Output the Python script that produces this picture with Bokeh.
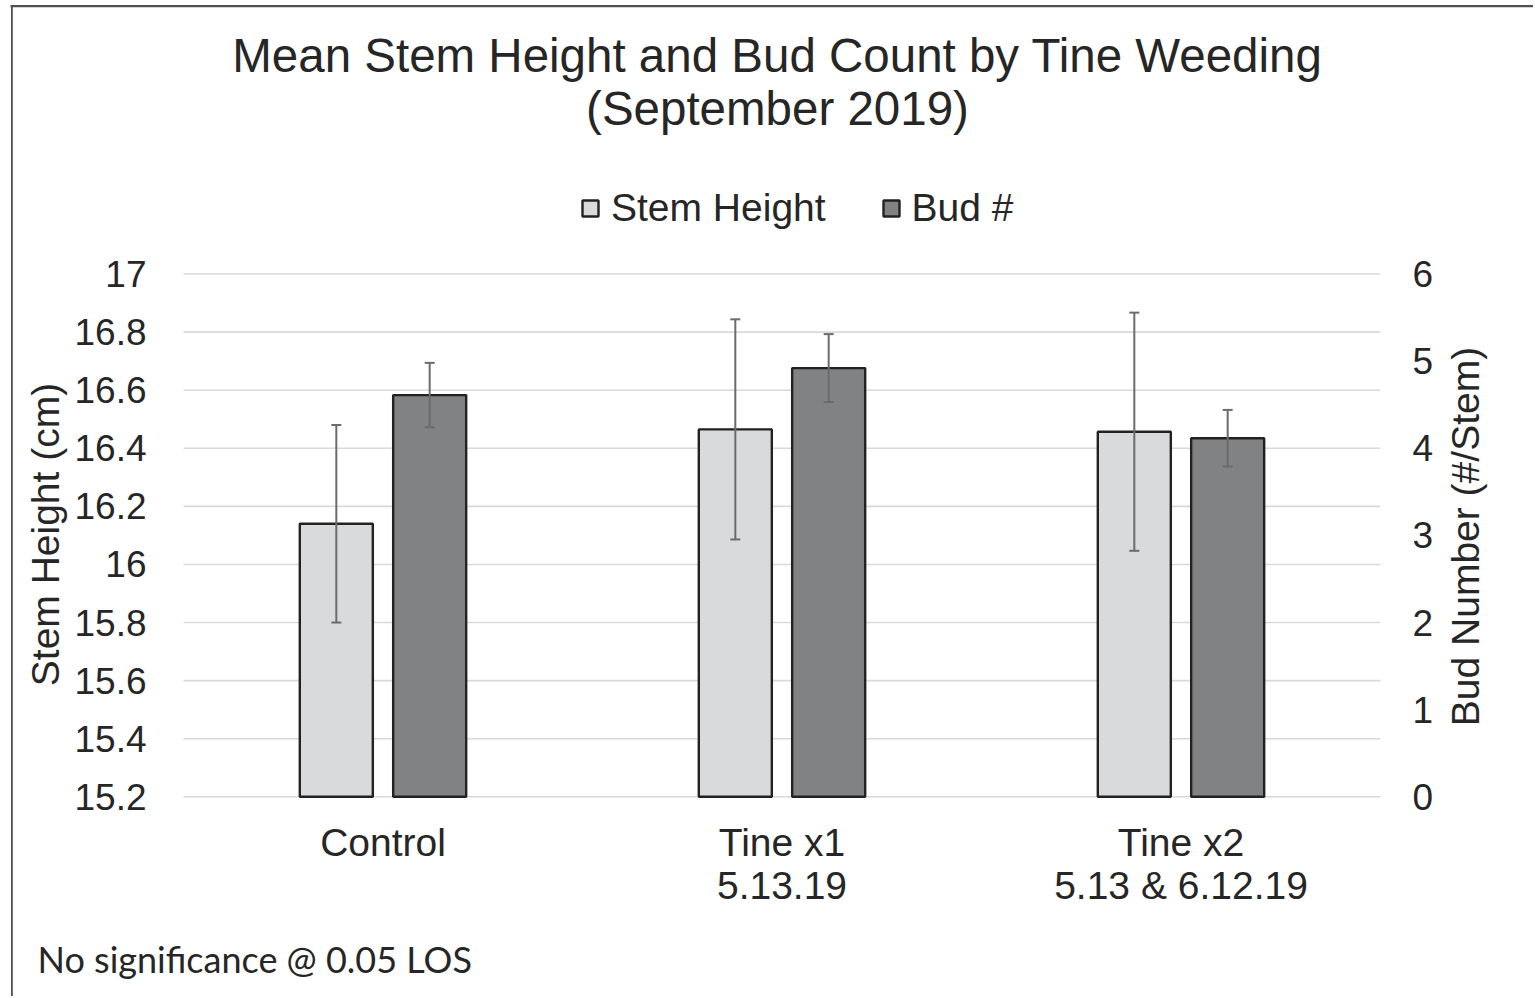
import math
from bokeh.plotting import figure
from bokeh.models import (ColumnDataSource, Range1d, LinearAxis, FixedTicker, Whisker, TeeHead,
                          Legend, LegendItem, Label, BoxAnnotation)
from bokeh.transform import dodge
from bokeh.embed import file_html
from bokeh.resources import INLINE

# ---------------- data ----------------
categories = ["Control", "Tine x1\n5.13.19", "Tine x2\n5.13 & 6.12.19"]
stem_height = [16.14, 16.465, 16.457]
stem_err = [0.34, 0.379, 0.41]
bud_number = [4.61, 4.92, 4.115]
bud_err = [0.37, 0.39, 0.325]

stem_ticks = [15.2, 15.4, 15.6, 15.8, 16.0, 16.2, 16.4, 16.6, 16.8, 17.0]
stem_tick_labels = ["15.2", "15.4", "15.6", "15.8", "16", "16.2", "16.4", "16.6", "16.8", "17"]
bud_ticks = [0, 1, 2, 3, 4, 5, 6]
bud_tick_labels = ["0", "1", "2", "3", "4", "5", "6"]

title_lines = ["Mean Stem Height and Bud Count by Tine Weeding", "(September 2019)"]
series_names = ["Stem Height", "Bud #"]
y_left_title = "Stem Height (cm)"
y_right_title = "Bud Number (#/Stem)"
footnote = "No significance @ 0.05 LOS"

# ---------------- layout / styles (pixels) ----------------
W, H = 1533, 996
PLOT_L, PLOT_R = 183.0, 1380.0      # plot area left / right edge
Y_TOP, Y_BOT = 273.5, 796.3         # pixel rows of the top / bottom axis ticks

FONT = "Liberation Sans"
TXT = "#262626"
LIGHT = "#d9dadc"
DARK = "#818284"
EDGE = "#222222"
ERR = "#6b6b6b"
GRID = "#d9d9d9"
FRAME_LINE = "#505050"

n = len(categories)
unit = (PLOT_R - PLOT_L) / n
x_range = Range1d(-PLOT_L / unit, (W - PLOT_L) / unit)

s0, s1 = stem_ticks[0], stem_ticks[-1]
ppu = (Y_BOT - Y_TOP) / (s1 - s0)
y_range = Range1d(s0 - (H - Y_BOT) / ppu, s0 + Y_BOT / ppu)
b0, b1 = bud_ticks[0], bud_ticks[-1]
ppu_b = (Y_BOT - Y_TOP) / (b1 - b0)
bud_range = Range1d(b0 - (H - Y_BOT) / ppu_b, b0 + Y_BOT / ppu_b)

xc = [i + 0.5 for i in range(n)]
src = ColumnDataSource(dict(
    xc=xc,
    stem=stem_height,
    stem_lo=[v - e for v, e in zip(stem_height, stem_err)],
    stem_hi=[v + e for v, e in zip(stem_height, stem_err)],
    bud=bud_number,
    bud_lo=[v - e for v, e in zip(bud_number, bud_err)],
    bud_hi=[v + e for v, e in zip(bud_number, bud_err)],
))

p = figure(x_range=x_range, y_range=y_range, width=W, height=H,
           output_backend="svg", toolbar_location=None,
           min_border_left=0, min_border_right=0, min_border_top=0, min_border_bottom=0,
           background_fill_color="white", border_fill_color="white")
p.title = None
p.outline_line_color = None
p.grid.visible = False
p.extra_y_ranges = {"bud": bud_range}

# horizontal gridlines across the plot area only
grid_src = ColumnDataSource(dict(y=stem_ticks, x0=[0] * len(stem_ticks), x1=[n] * len(stem_ticks)))
p.segment(x0="x0", x1="x1", y0="y", y1="y", source=grid_src, line_color=GRID, line_width=1.6)

OFF = 0.117
BW = 0.183
r_stem = p.vbar(x=dodge("xc", -OFF), top="stem", bottom=s0, width=BW,
                source=src, fill_color=LIGHT, line_color=EDGE, line_width=2.4)
r_bud = p.vbar(x=dodge("xc", OFF), top="bud", bottom=b0, width=BW,
               source=src, fill_color=DARK, line_color=EDGE, line_width=2.4, y_range_name="bud")

def head():
    return TeeHead(size=10, line_color=ERR, line_width=2)

p.add_layout(Whisker(source=src, base=dodge("xc", -OFF), upper="stem_hi", lower="stem_lo",
                     line_color=ERR, line_width=2, upper_head=head(), lower_head=head(), level="overlay"))
p.add_layout(Whisker(source=src, base=dodge("xc", OFF), upper="bud_hi", lower="bud_lo",
                     line_color=ERR, line_width=2, upper_head=head(), lower_head=head(), level="overlay",
                     y_range_name="bud"))

def style_axis(ax):
    ax.axis_line_color = None
    ax.major_tick_line_color = None
    ax.minor_tick_line_color = None
    ax.major_tick_out = 0
    ax.major_tick_in = 0
    ax.minor_tick_out = 0
    ax.minor_tick_in = 0
    ax.major_label_text_font = FONT
    ax.major_label_text_color = TXT

# left axis (stem height), pinned to the plot area's left edge
ly = p.yaxis[0]
style_axis(ly)
ly.fixed_location = 0
ly.ticker = FixedTicker(ticks=stem_ticks)
ly.major_label_overrides = {t: l for t, l in zip(stem_ticks, stem_tick_labels)}
ly.major_label_text_font_size = "37px"
ly.major_label_standoff = 37

# right axis (bud number), pinned to the plot area's right edge
ry = LinearAxis(y_range_name="bud", ticker=FixedTicker(ticks=bud_ticks), fixed_location=n)
style_axis(ry)
ry.major_label_overrides = {t: l for t, l in zip(bud_ticks, bud_tick_labels)}
ry.major_label_text_font_size = "37px"
ry.major_label_standoff = 32
p.add_layout(ry, "right")

# category axis, pinned to the baseline
xa = p.xaxis[0]
style_axis(xa)
xa.fixed_location = s0
xa.ticker = FixedTicker(ticks=xc)
xa.major_label_overrides = {x: c for x, c in zip(xc, categories)}
xa.major_label_text_font_size = "39px"
xa.major_label_standoff = 24
xa.major_label_text_line_height = 1.0

# axis titles
p.add_layout(Label(x=44.5, y=H - 534, x_units="screen", y_units="screen", text=y_left_title,
                   angle=math.pi / 2, text_align="center", text_baseline="middle",
                   text_font=FONT, text_font_size="39px", text_color=TXT))
p.add_layout(Label(x=1465, y=H - 536, x_units="screen", y_units="screen", text=y_right_title,
                   angle=math.pi / 2, text_align="center", text_baseline="middle",
                   text_font=FONT, text_font_size="39px", text_color=TXT))

# legend
legend = Legend(items=[LegendItem(label=series_names[0], renderers=[r_stem]),
                       LegendItem(label=series_names[1], renderers=[r_bud])],
                location=(580, H - 229.8), orientation="horizontal",
                glyph_width=20, glyph_height=20, label_standoff=11, spacing=55,
                padding=0, margin=0, border_line_color=None, background_fill_alpha=0,
                label_text_font=FONT, label_text_font_size="39px", label_text_color=TXT)
p.add_layout(legend, "center")

# title
for line, ypos in zip(title_lines, [55, 108]):
    p.add_layout(Label(x=777, y=H - ypos, x_units="screen", y_units="screen", text=line,
                       text_align="center", text_baseline="alphabetic", text_font=FONT,
                       text_font_size="47.5px", text_color=TXT))

# footnote
p.add_layout(Label(x=37, y=H - 958, x_units="screen", y_units="screen", text=footnote,
                   text_align="left", text_baseline="alphabetic", text_font="Lato",
                   text_font_size="36px", text_color=TXT))

# chart border (top and left edges)
p.add_layout(BoxAnnotation(left=10, right=W + 50, top=H - 4.5, bottom=H - 6.7,
                           left_units="screen", right_units="screen",
                           top_units="screen", bottom_units="screen",
                           fill_color=FRAME_LINE, fill_alpha=1, line_color=None))
p.add_layout(BoxAnnotation(left=10.5, right=12.3, top=H - 4.5, bottom=-50,
                           left_units="screen", right_units="screen",
                           top_units="screen", bottom_units="screen",
                           fill_color=FRAME_LINE, fill_alpha=1, line_color=None))

open("out.html", "w").write(file_html(p, INLINE))
